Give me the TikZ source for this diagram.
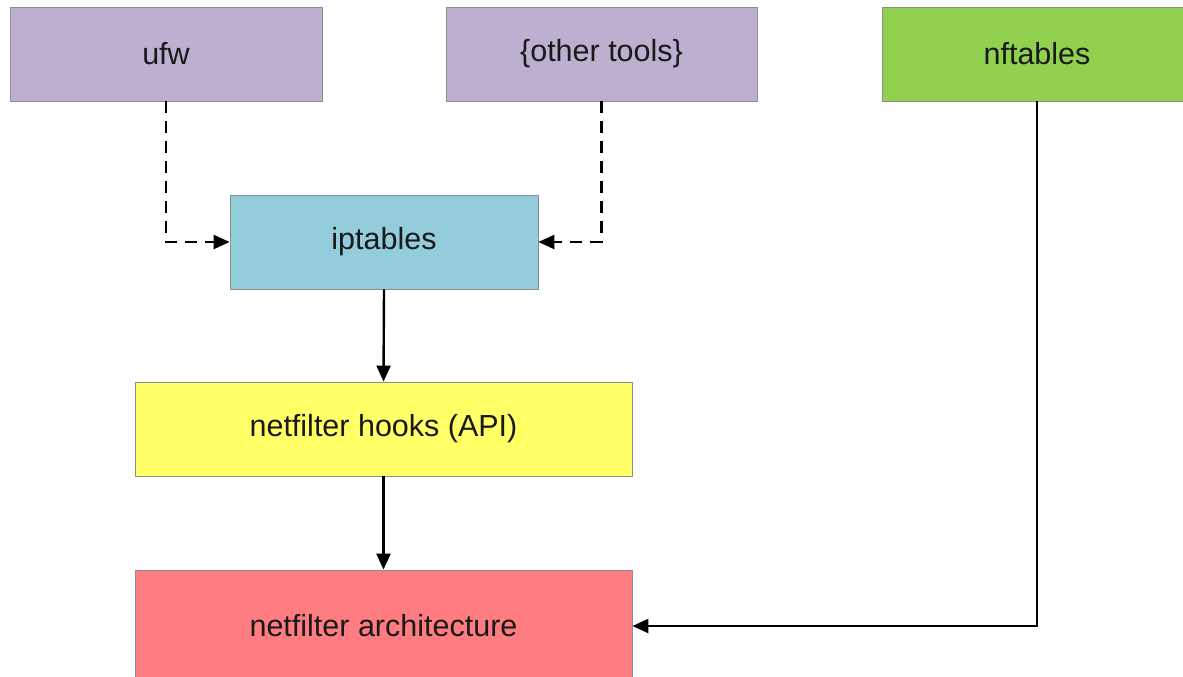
\documentclass[tikz,border=0pt]{standalone}
\usepackage{fontspec}
\setmainfont{Liberation Sans}
\usetikzlibrary{arrows.meta}
\definecolor{lav}{HTML}{BCAFD0}
\definecolor{aqua}{HTML}{93CDDC}
\definecolor{lime}{HTML}{92D050}
\definecolor{lemon}{HTML}{FFFF66}
\definecolor{salmon}{HTML}{FF7C80}
\definecolor{edge}{HTML}{8C8C8C}
\tikzset{
  box/.style={draw=edge, line width=0.8pt, minimum height=94pt, inner sep=0pt,
    font=\fontsize{30.5}{36}\selectfont, text=black!90},
  link/.style={line width=2.4pt, -{Triangle[length=16pt,width=14pt]}},
  dlink/.style={link, dash pattern=on 12pt off 8pt}
}
\begin{document}
\begin{tikzpicture}[x=1pt,y=-1pt]
  \useasboundingbox (0,0) rectangle (1183,677);
  \clip (0,0) rectangle (1183,677);
  \fill[white] (0,0) rectangle (1183,677);
  % tool boxes along the top
  \node[box, fill=lav, minimum width=312pt] (ufw) at (166,54) {ufw};
  \node[box, fill=lav, minimum width=311pt] (other) at (601.5,54) {\{other tools\}};
  \node[box, fill=lime, minimum width=310pt] (nft) at (1037,54) {nftables};
  % stack below
  \node[box, fill=aqua, minimum width=308pt] (ipt) at (384,242) {iptables};
  \node[box, fill=lemon, minimum width=497pt] (hooks) at (383.5,429) {netfilter hooks (API)};
  \node[box, fill=salmon, minimum width=497pt, minimum height=112pt] (arch) at (383.5,626) {netfilter architecture};
  % connectors
  \draw[dlink] (ufw.south) |- (ipt.west);
  \draw[dlink] (other.south) |- (ipt.east);
  \draw[link] (ipt.south) -- (hooks.north);
  \draw[link] (hooks.south) -- (arch.north);
  \draw[link] (nft.south) |- (arch.east);
\end{tikzpicture}
\end{document}
